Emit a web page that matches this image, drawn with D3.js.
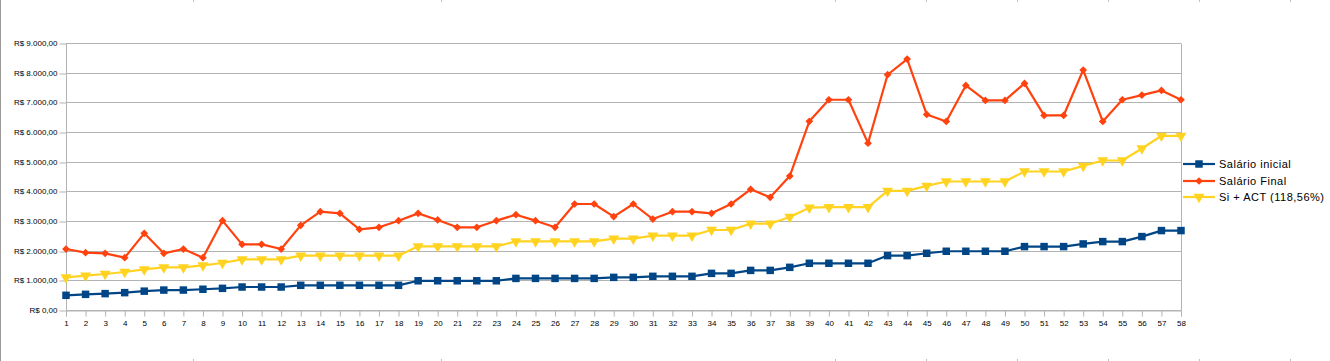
<!DOCTYPE html>
<html>
<head>
<meta charset="utf-8">
<script src="https://cdn.jsdelivr.net/npm/d3@7"></script>
<style>
  html, body { margin: 0; padding: 0; background: #fff; }
  svg { display: block; }
  text { font-family: "Liberation Sans", Arial, sans-serif; fill: #000; }
</style>
</head>
<body>
<div id="chart"></div>
<script>
// categories 1..58
const categories = [
  1,2,3,4,5,6,7,8,9,10,11,12,13,14,15,16,17,18,19,20,
  21,22,23,24,25,26,27,28,29,30,31,32,33,34,35,36,37,38,39,40,
  41,42,43,44,45,46,47,48,49,50,51,52,53,54,55,56,57,58
];

const salarioInicial = [
  495, 528, 552, 585, 635, 672, 672, 700, 730, 775,
  775, 775, 832, 832, 832, 832, 832, 832, 985, 985,
  985, 985, 985, 1065, 1065, 1065, 1065, 1065, 1100, 1100,
  1135, 1135, 1135, 1235, 1235, 1335, 1335, 1438, 1575, 1575,
  1575, 1575, 1834, 1834, 1912, 1980, 1980, 1980, 1980, 2137,
  2137, 2137, 2227, 2306, 2306, 2475, 2677, 2677
];

const salarioFinal = [
  2056, 1933, 1910, 1764, 2584, 1910, 2056, 1764, 3011, 2213,
  2213, 2056, 2854, 3315, 3258, 2719, 2787, 3011, 3258, 3034,
  2787, 2787, 3011, 3213, 3011, 2787, 3573, 3573, 3146, 3573,
  3067, 3315, 3315, 3258, 3573, 4067, 3798, 4514, 6360, 7087,
  7087, 5624, 7930, 8459, 6592, 6355, 7570, 7064, 7064, 7638,
  6558, 6558, 8088, 6355, 7087, 7244, 7402, 7087
];

const siAct = [
  1101, 1157, 1213, 1281, 1371, 1438, 1438, 1506, 1584, 1708,
  1708, 1708, 1831, 1831, 1831, 1831, 1831, 1831, 2146, 2146,
  2146, 2146, 2146, 2315, 2315, 2315, 2315, 2315, 2404, 2404,
  2506, 2506, 2506, 2697, 2697, 2910, 2910, 3135, 3450, 3465,
  3465, 3465, 4016, 4016, 4184, 4331, 4331, 4331, 4331, 4668,
  4668, 4668, 4859, 5039, 5039, 5444, 5872, 5872
];

const yTicks = [0, 1000, 2000, 3000, 4000, 5000, 6000, 7000, 8000, 9000];

const seriesNames = ['Salário inicial', 'Salário Final', 'Si + ACT (118,56%)'];
const seriesColors = ['#004586', '#ff420e', '#ffd320'];

// spreadsheet cell border remnants along the top/bottom edges
const cellEdges = [193, 441, 835, 926, 1017, 1108, 1199, 1290];

const W = 1330, H = 361;
const m = { top: 43, right: 149, bottom: 51, left: 66 };
const w = W - m.left - m.right;
const h = H - m.top - m.bottom;

const svg = d3.select('#chart').append('svg')
  .attr('width', W).attr('height', H);

// sheet frame bits
svg.append('line').attr('x1', 0.5).attr('x2', 0.5).attr('y1', 0).attr('y2', H)
  .attr('stroke', '#9a9a9a');
cellEdges.forEach(x => {
  svg.append('line').attr('x1', x + 0.5).attr('x2', x + 0.5).attr('y1', 0).attr('y2', 2)
    .attr('stroke', '#c0c0c0');
  svg.append('line').attr('x1', x + 0.5).attr('x2', x + 0.5).attr('y1', H - 2).attr('y2', H)
    .attr('stroke', '#c0c0c0');
});

const g = svg.append('g').attr('transform', `translate(${m.left},${m.top})`);

const x = d3.scalePoint().domain(categories).range([0, w]);
const y = d3.scaleLinear().domain([0, 9000]).range([h, 0]);

const fmt = v => 'R$ ' + d3.format(',.2f')(v).replace(/,/g, '#').replace('.', ',').replace(/#/g, '.');

// gridlines
g.append('g')
  .selectAll('line')
  .data(yTicks)
  .join('line')
  .attr('x1', 0).attr('x2', w)
  .attr('y1', d => Math.round(y(d)) + 0.5).attr('y2', d => Math.round(y(d)) + 0.5)
  .attr('stroke', '#b3b3b3');

// plot border (left, right)
g.append('line').attr('x1', 0.5).attr('x2', 0.5).attr('y1', Math.round(y(9000)) + 0.5).attr('y2', h + 0.5)
  .attr('stroke', '#b3b3b3');
g.append('line').attr('x1', w + 0.5).attr('x2', w + 0.5).attr('y1', Math.round(y(9000)) + 0.5).attr('y2', h + 0.5)
  .attr('stroke', '#b3b3b3');

// y axis
const yAx = g.append('g')
  .attr('transform', 'translate(0.5,0)')
  .call(d3.axisLeft(y).tickValues(yTicks).tickSize(7).tickPadding(2).tickFormat(fmt));
yAx.select('.domain').remove();
yAx.selectAll('line').attr('stroke', '#b3b3b3')
  .attr('transform', d => `translate(0,${Math.round(y(d)) + 0.5 - y(d)})`);
yAx.selectAll('text').attr('font-size', 8).attr('font-family', '"Liberation Sans", Arial, sans-serif')
  .attr('fill', '#000');

// x axis
const xAx = g.append('g')
  .attr('transform', `translate(0,${h + 0.5})`)
  .call(d3.axisBottom(x).tickSize(6).tickPadding(4));
xAx.select('.domain').attr('stroke', '#b3b3b3');
xAx.selectAll('line').attr('stroke', '#b3b3b3');
xAx.selectAll('text').attr('font-size', 8).attr('font-family', '"Liberation Sans", Arial, sans-serif')
  .attr('fill', '#000');

// series
const allSeries = [salarioInicial, salarioFinal, siAct];
const line = d3.line().x((d, i) => x(categories[i])).y(d => y(d));

// square, diamond (rotated square), down triangle
const symbols = [d3.symbolSquare, d3.symbolSquare, d3.symbolTriangle];
const symSizes = [56, 30, 52];
const symRot = [0, 45, 180];

[2, 1, 0].forEach(si => {
  const data = allSeries[si];
  const col = seriesColors[si];
  g.append('path')
    .datum(data)
    .attr('d', line)
    .attr('fill', 'none')
    .attr('stroke', col)
    .attr('stroke-width', 2.2)
    .attr('stroke-linejoin', 'round');
  g.append('g').selectAll('path')
    .data(data)
    .join('path')
    .attr('d', d3.symbol().type(symbols[si]).size(symSizes[si]))
    .attr('transform', (d, i) => `translate(${x(categories[i])},${y(d)}) rotate(${symRot[si]})`)
    .attr('fill', col);
});

// legend
const leg = svg.append('g').attr('transform', 'translate(1183,164)');
const legRowY = [0, 17, 33];
seriesNames.forEach((name, i) => {
  const ly = legRowY[i];
  leg.append('line').attr('x1', 0).attr('x2', 32).attr('y1', ly).attr('y2', ly)
    .attr('stroke', seriesColors[i]).attr('stroke-width', 2.2);
  leg.append('path')
    .attr('d', d3.symbol().type(symbols[i]).size(symSizes[i])())
    .attr('transform', `translate(16,${ly}) rotate(${symRot[i]})`)
    .attr('fill', seriesColors[i]);
  leg.append('text').attr('x', 36).attr('y', ly + 4)
    .attr('font-size', 11)
    .attr('letter-spacing', 0.5)
    .text(name);
});
</script>
</body>
</html>
